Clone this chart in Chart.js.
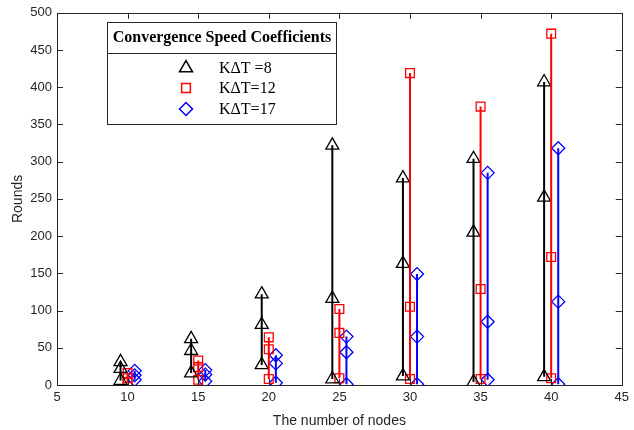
<!DOCTYPE html>
<html>
<head>
<meta charset="utf-8">
<script src="https://cdn.jsdelivr.net/npm/chart.js@4.4.1/dist/chart.umd.min.js"></script>
<style>
html,body{margin:0;padding:0;background:#fff;}
#wrap{width:634px;height:430px;position:relative;}
</style>
</head>
<body>
<div id="wrap"><canvas id="c" width="634" height="430"></canvas></div>
<script>
const nodes = [10, 15, 20, 25, 30, 35, 40];
const xTicks = [5, 10, 15, 20, 25, 30, 35, 40, 45];
const yTicks = [0, 50, 100, 150, 200, 250, 300, 350, 400, 450, 500];

const k8Max = [31, 62, 122, 322, 278, 304, 407];
const k8Mid = [22, 46, 81, 116, 163, 205, 252];
const k8Min = [6, 16, 27, 8, 12, 4, 11];

const k12Max = [16, 33, 64, 102, 419, 374, 472];
const k12Mid = [9, 24, 48, 70, 105, 129, 172];
const k12Min = [3, 7, 8, 9, 8, 8, 9];

const k17Max = [19, 20, 40, 65, 149, 285, 318];
const k17Mid = [13, 14, 29, 44, 65, 85, 112];
const k17Min = [7, 5, 3, 1, 1, 7, 1];

const seriesNames = ['K\u0394T =8', 'K\u0394T=12', 'K\u0394T=17'];
const legendTitle = 'Convergence Speed Coefficients';

const series = [
  {name: seriesNames[0], max: k8Max, mid: k8Mid, min: k8Min, off: -0.5, color: '#000000', style: 'triangle', r: 7.5},
  {name: seriesNames[1], max: k12Max, mid: k12Mid, min: k12Min, off: 0, color: '#ff0000', style: 'rect', r: 6.2},
  {name: seriesNames[2], max: k17Max, mid: k17Mid, min: k17Min, off: 0.5, color: '#0000ff', style: 'rectRot', r: 6.5}
];

const datasets = [];
series.forEach(s => {
  datasets.push({
    label: s.name + ' range',
    data: nodes.flatMap((n, i) => [{x: n + s.off, y: s.min[i]}, {x: n + s.off, y: s.max[i]}, {x: n + s.off, y: null}]),
    showLine: true,
    spanGaps: false,
    borderColor: s.color,
    borderWidth: 2,
    pointRadius: 0,
    fill: false
  });
});
series.forEach(s => {
  datasets.push({
    label: s.name,
    data: nodes.flatMap((n, i) => [s.max, s.mid, s.min].map(a => ({x: n + s.off, y: a[i]}))),
    showLine: false,
    pointStyle: s.style,
    pointRadius: s.r,
    pointBorderColor: s.color,
    pointBackgroundColor: 'rgba(0,0,0,0)',
    pointBorderWidth: 1.3
  });
});

const axisColor = '#262626';

const boxPlugin = {
  id: 'boxPlugin',
  afterDatasetsDraw(chart) {
    const ctx = chart.ctx;
    const ca = chart.chartArea;
    const xs = chart.scales.x, ys = chart.scales.y;
    ctx.save();
    ctx.strokeStyle = axisColor;
    ctx.lineWidth = 1;
    ctx.strokeRect(Math.round(ca.left) + 0.5, Math.round(ca.top) + 0.5, Math.round(ca.right - ca.left), Math.round(ca.bottom - ca.top));
    ctx.beginPath();
    xTicks.forEach(v => {
      const px = Math.round(xs.getPixelForValue(v)) + 0.5;
      ctx.moveTo(px, ca.bottom); ctx.lineTo(px, ca.bottom - 6);
      ctx.moveTo(px, ca.top); ctx.lineTo(px, ca.top + 6);
    });
    yTicks.forEach(v => {
      const py = Math.round(ys.getPixelForValue(v)) + 0.5;
      ctx.moveTo(ca.left, py); ctx.lineTo(ca.left + 6, py);
      ctx.moveTo(ca.right, py); ctx.lineTo(ca.right - 6, py);
    });
    ctx.stroke();

    // legend box
    const L = 107.5, T = 22.5, R = 336.5, B = 124.5;
    ctx.fillStyle = '#ffffff';
    ctx.fillRect(L, T, R - L, B - T);
    ctx.strokeStyle = '#262626';
    ctx.lineWidth = 1;
    ctx.strokeRect(L, T, R - L, B - T);
    ctx.beginPath();
    ctx.moveTo(L, 53.5); ctx.lineTo(R, 53.5);
    ctx.stroke();
    ctx.fillStyle = '#000000';
    ctx.font = 'bold 16px "Liberation Serif", "Times New Roman", serif';
    ctx.textAlign = 'center';
    ctx.textBaseline = 'middle';
    ctx.fillText(legendTitle, (L + R) / 2, 38);
    ctx.font = '16px "Liberation Serif", "Times New Roman", serif';
    ctx.textAlign = 'left';
    const rowsY = [68, 88, 109];
    series.forEach((s, i) => {
      ctx.strokeStyle = s.color;
      ctx.fillStyle = 'rgba(0,0,0,0)';
      ctx.lineWidth = 1.5;
      Chart.helpers.drawPoint(ctx, {pointStyle: s.style, radius: s.r, borderWidth: 1.5, rotation: 0}, 186, rowsY[i]);
      ctx.fillStyle = '#000';
      ctx.fillText(s.name, 219, rowsY[i] + 1);
    });
    ctx.restore();
  }
};

new Chart(document.getElementById('c'), {
  type: 'scatter',
  data: {datasets},
  options: {
    responsive: false,
    animation: false,
    devicePixelRatio: 1,
    layout: {padding: {left: 0, right: 9, top: 11, bottom: 0}},
    plugins: {legend: {display: false}, tooltip: {enabled: false}},
    scales: {
      x: {
        type: 'linear', min: 5, max: 45,
        afterBuildTicks: sc => { sc.ticks = xTicks.map(v => ({value: v})); },
        afterFit: sc => { sc.height = 45; },
        grid: {display: false, drawTicks: false},
        border: {display: false},
        ticks: {color: axisColor, font: {family: '"Liberation Sans", Arial, sans-serif', size: 13}, padding: 5, maxRotation: 0},
        title: {display: true, text: 'The number of nodes', color: axisColor, font: {family: '"Liberation Sans", Arial, sans-serif', size: 14}, padding: {top: 0, bottom: 0}}
      },
      y: {
        type: 'linear', min: 0, max: 500,
        afterBuildTicks: sc => { sc.ticks = yTicks.map(v => ({value: v})); },
        afterFit: sc => { sc.width = 57; },
        grid: {display: false, drawTicks: false},
        border: {display: false},
        ticks: {color: axisColor, font: {family: '"Liberation Sans", Arial, sans-serif', size: 13}, padding: 5},
        title: {display: true, text: 'Rounds', color: axisColor, font: {family: '"Liberation Sans", Arial, sans-serif', size: 14}, padding: {top: 10, bottom: 0}}
      }
    }
  },
  plugins: [boxPlugin]
});
</script>
</body>
</html>
